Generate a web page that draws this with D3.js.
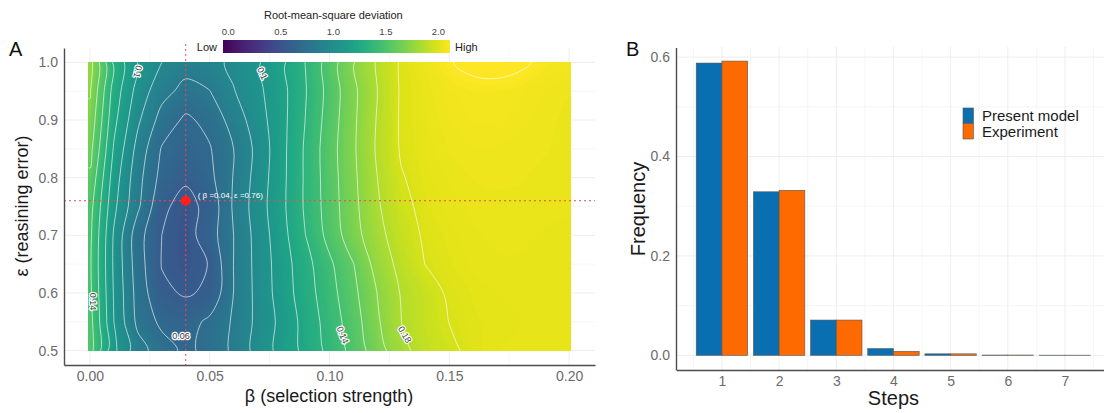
<!DOCTYPE html>
<html>
<head>
<meta charset="utf-8">
<script src="https://cdn.jsdelivr.net/npm/d3@7"></script>
<style>
  body { margin: 0; background: #fff; }
  text { font-family: "Liberation Sans", Arial, sans-serif; }
</style>
</head>
<body>
<svg id="main-svg" width="1104" height="413"></svg>
<script>
(function() {

    // ---- panel A data: RMSD, rows = epsilon, cols = beta
    var betas = [0, 0.01, 0.02, 0.03, 0.04, 0.05, 0.06, 0.07, 0.08, 0.09, 0.10,
                 0.11, 0.12, 0.13, 0.14, 0.15, 0.16, 0.17, 0.18, 0.19, 0.20];
    var epsilons = [0.50, 0.55, 0.60, 0.65, 0.70, 0.75, 0.80, 0.85, 0.90, 0.95, 1.00];
    var rmsd = [
        [0.146, 0.103, 0.079, 0.066, 0.057, 0.064, 0.076, 0.0915, 0.1045, 0.117, 0.1305, 0.1445, 0.161, 0.176, 0.186, 0.191, 0.196, 0.198, 0.199, 0.199, 0.199],
        [0.145, 0.100, 0.070, 0.057, 0.054, 0.063, 0.075, 0.090, 0.1035, 0.118, 0.1325, 0.147, 0.165, 0.180, 0.1875, 0.1935, 0.1965, 0.1975, 0.198, 0.1985, 0.1985],
        [0.143, 0.099, 0.068, 0.049, 0.0455, 0.0485, 0.0735, 0.0905, 0.106, 0.1205, 0.135, 0.150, 0.167, 0.181, 0.188, 0.195, 0.197, 0.198, 0.1985, 0.1985, 0.198],
        [0.142, 0.098, 0.066, 0.0462, 0.042, 0.0472, 0.0735, 0.091, 0.1065, 0.122, 0.1375, 0.153, 0.172, 0.184, 0.1935, 0.1965, 0.1985, 0.199, 0.199, 0.199, 0.1985],
        [0.143, 0.0986, 0.0652, 0.0467, 0.0415, 0.0536, 0.0733, 0.0917, 0.1083, 0.1267, 0.1444, 0.1616, 0.176, 0.1872, 0.195, 0.1975, 0.199, 0.1995, 0.1995, 0.199, 0.1985],
        [0.145, 0.1033, 0.0757, 0.049, 0.0425, 0.0505, 0.0752, 0.0934, 0.110, 0.1286, 0.1462, 0.1633, 0.1785, 0.190, 0.1965, 0.1985, 0.1995, 0.200, 0.200, 0.1998, 0.1995],
        [0.151, 0.107, 0.078, 0.0555, 0.0485, 0.0565, 0.074, 0.092, 0.1095, 0.1286, 0.1469, 0.1642, 0.180, 0.1925, 0.1975, 0.1995, 0.2005, 0.2007, 0.2005, 0.200, 0.1995],
        [0.158, 0.112, 0.0822, 0.059, 0.054, 0.059, 0.0733, 0.0905, 0.1092, 0.1286, 0.1476, 0.165, 0.1817, 0.1946, 0.1985, 0.2005, 0.2015, 0.2015, 0.201, 0.2005, 0.200],
        [0.163, 0.117, 0.089, 0.068, 0.0575, 0.064, 0.079, 0.094, 0.109, 0.127, 0.146, 0.1645, 0.181, 0.195, 0.199, 0.2015, 0.203, 0.203, 0.202, 0.2008, 0.200],
        [0.168, 0.121, 0.095, 0.078, 0.069, 0.073, 0.086, 0.097, 0.109, 0.126, 0.1446, 0.164, 0.180, 0.1948, 0.1995, 0.2025, 0.2040, 0.2040, 0.2030, 0.2015, 0.2005],
        [0.172, 0.124, 0.0995, 0.0867, 0.079, 0.082, 0.0898, 0.0985, 0.1105, 0.127, 0.146, 0.166, 0.1815, 0.195, 0.2005, 0.2062, 0.2092, 0.2100, 0.2082, 0.2045, 0.2025]
    ];
    var contourLevels = [0.0467, 0.06, 0.0733, 0.0867, 0.10, 0.1133, 0.1267,
                         0.14, 0.1533, 0.1667, 0.18, 0.1933, 0.2067];
    var contourLabels = [
        {text: "0.1",  beta: 0.020, eps: 0.984, angle: 105},
        {text: "0.1",  beta: 0.072, eps: 0.981, angle: 65},
        {text: "0.14", beta: 0.0012, eps: 0.585, angle: 90},
        {text: "0.06", beta: 0.038, eps: 0.526, angle: 0},
        {text: "0.14", beta: 0.1055, eps: 0.527, angle: 68},
        {text: "0.18", beta: 0.1315, eps: 0.528, angle: 60}
    ];
    var best = {beta: 0.04, eps: 0.76};
    var betaTicks = [0, 0.05, 0.10, 0.15, 0.20];
    var epsTicks = [0.5, 0.6, 0.7, 0.8, 0.9, 1.0];
    var legendTicks = [0, 0.5, 1.0, 1.5, 2.0];

    // ---- panel B data
    var steps = [1, 2, 3, 4, 5, 6, 7];
    var presentModel = [0.588, 0.329, 0.071, 0.0135, 0.003, 0.0006, 0.0003];
    var experiment   = [0.592, 0.332, 0.071, 0.008, 0.003, 0.0006, 0.0003];
    var seriesNames = ["Present model", "Experiment"];
    var seriesColors = ["#0a6fb0", "#ff6a00"];
    var freqTicks = [0, 0.2, 0.4, 0.6];

    var svg = d3.select("#main-svg");
    var gridColor = "#ececec";
    var axisColor = "#4d4d4d";
    var tickColor = "#6b6b6b";

    // =========================== PANEL A ===========================
    var xA = d3.scaleLinear().domain([-0.0108, 0.2108]).range([64, 595]);
    var yA = d3.scaleLinear().domain([0.475, 1.025]).range([365, 48]);

    var gA = svg.append("g");

    gA.selectAll(".gx").data(d3.range(0, 0.2001, 0.025)).enter()
      .append("line")
      .attr("x1", function(d) { return xA(d); }).attr("x2", function(d) { return xA(d); })
      .attr("y1", 48).attr("y2", 365)
      .attr("stroke", gridColor).attr("stroke-width", function(d, i) { return i % 2 ? 0.5 : 0.9; });
    gA.selectAll(".gy").data(d3.range(0.5, 1.0001, 0.05)).enter()
      .append("line")
      .attr("x1", 64).attr("x2", 595)
      .attr("y1", function(d) { return yA(d); }).attr("y2", function(d) { return yA(d); })
      .attr("stroke", gridColor).attr("stroke-width", function(d, i) { return i % 2 ? 0.5 : 0.9; });

    var nx = betas.length, ny = epsilons.length;
    var bIdx = d3.scaleLinear().domain([0, nx - 1]).range([betas[0], betas[nx - 1]]);
    var eIdx = d3.scaleLinear().domain([0, ny - 1]).range([epsilons[0], epsilons[ny - 1]]);
    var flat = d3.merge(rmsd);
    var contourGen = d3.contours().size([nx, ny]);

    // smooth rings of a contour multipolygon (grid coords -> pixels)
    var ringLine = d3.line().curve(d3.curveCatmullRomClosed.alpha(0.5));
    var smoothPath = function(c) {
        var s = "";
        c.coordinates.forEach(function(poly) {
            poly.forEach(function(ring) {
                var pts = ring.slice(0, ring.length - 1).map(function(p) {
                    return [xA(bIdx(p[0] - 0.5)), yA(eIdx(p[1] - 0.5))];
                });
                if (pts.length > 2) s += ringLine(pts);
            });
        });
        return s;
    };

    var heatColor = d3.scaleSequential(d3.interpolateViridis).domain([-0.018, 0.207]);

    svg.append("defs").append("clipPath").attr("id", "clip-heat")
      .append("rect")
      .attr("x", xA(0) - 1.5).attr("y", yA(1.0) - 0.5)
      .attr("width", xA(0.2) - xA(0) + 3).attr("height", yA(0.5) - yA(1.0) + 1);

    var heat = gA.append("g").attr("clip-path", "url(#clip-heat)");

    var bandStep = 0.0012;
    var bandLevels = d3.range(0.036, 0.2125, bandStep);
    heat.selectAll(".band")
      .data(contourGen.thresholds(bandLevels)(flat))
      .enter().append("path")
      .attr("d", smoothPath)
      .attr("fill", function(c) { return heatColor(c.value + bandStep / 2); })
      .attr("stroke", "none");

    heat.selectAll(".iso")
      .data(contourGen.thresholds(contourLevels)(flat))
      .enter().append("path")
      .attr("d", smoothPath)
      .attr("fill", "none")
      .attr("stroke", "#ffffff")
      .attr("stroke-opacity", 0.62)
      .attr("stroke-width", 1);

    gA.selectAll(".clab").data(contourLabels).enter()
      .append("text")
      .attr("transform", function(d) {
          return "translate(" + xA(d.beta) + "," + yA(d.eps) + ") rotate(" + d.angle + ")";
      })
      .attr("text-anchor", "middle")
      .attr("dy", "0.35em")
      .attr("font-size", 9)
      .attr("fill", "#3a3a3a")
      .attr("stroke", "#ffffff")
      .attr("stroke-width", 2.4)
      .attr("stroke-linejoin", "round")
      .attr("paint-order", "stroke")
      .text(function(d) { return d.text; });

    // best fit cross-hair
    gA.append("line")
      .attr("x1", xA(best.beta)).attr("x2", xA(best.beta))
      .attr("y1", 44).attr("y2", 365)
      .attr("stroke", "#f0484e").attr("stroke-width", 1)
      .attr("stroke-dasharray", "2,3");
    gA.append("line")
      .attr("x1", 64).attr("x2", 595)
      .attr("y1", yA(best.eps)).attr("y2", yA(best.eps))
      .attr("stroke", "#f0484e").attr("stroke-width", 1)
      .attr("stroke-dasharray", "2,3");
    gA.append("circle")
      .attr("cx", xA(best.beta)).attr("cy", yA(best.eps)).attr("r", 5)
      .attr("fill", "#ff1f1f");
    gA.append("text")
      .attr("x", xA(best.beta) + 12).attr("y", yA(best.eps) - 3)
      .attr("font-size", 8)
      .attr("fill", "#ffffff")
      .text("( \u03b2 =" + best.beta + ", \u03b5 =" + best.eps + ")");

    // axes A
    var axAy = gA.append("g").attr("transform", "translate(64,0)")
      .call(d3.axisLeft(yA).tickValues(epsTicks).tickFormat(d3.format(".1f"))
            .tickSize(0).tickSizeOuter(0).tickPadding(6));
    var axAx = gA.append("g").attr("transform", "translate(0,365)")
      .call(d3.axisBottom(xA).tickValues(betaTicks).tickFormat(d3.format(".2f"))
            .tickSize(0).tickSizeOuter(0).tickPadding(6));
    [axAy, axAx].forEach(function(ax) {
        ax.select(".domain").attr("stroke", axisColor).attr("stroke-width", 1.4);
        ax.selectAll("text").attr("font-size", 14).attr("fill", tickColor)
          .style("font-family", "Liberation Sans, Arial, sans-serif");
    });

    gA.append("text")
      .attr("transform", "translate(28,206) rotate(-90)")
      .attr("text-anchor", "middle")
      .attr("font-size", 18).attr("fill", "#1a1a1a")
      .text("\u03b5 (reasining error)");
    gA.append("text")
      .attr("x", 329).attr("y", 402)
      .attr("text-anchor", "middle")
      .attr("font-size", 18).attr("fill", "#1a1a1a")
      .text("\u03b2 (selection strength)");
    gA.append("text")
      .attr("x", 9).attr("y", 56)
      .attr("font-size", 20).attr("fill", "#111")
      .text("A");

    // colour legend
    var legendX = d3.scaleLinear().domain([-0.05, 2.11]).range([223, 450]);
    var grad = svg.select("defs").append("linearGradient").attr("id", "viridis-grad")
      .attr("x1", "0%").attr("x2", "100%").attr("y1", "0%").attr("y2", "0%");
    d3.range(0, 1.0001, 0.05).forEach(function(t) {
        grad.append("stop").attr("offset", (t * 100) + "%").attr("stop-color", d3.interpolateViridis(t));
    });
    var gL = svg.append("g");
    gL.append("rect")
      .attr("x", legendX(-0.05)).attr("y", 40)
      .attr("width", legendX(2.11) - legendX(-0.05)).attr("height", 13)
      .attr("fill", "url(#viridis-grad)");
    gL.selectAll(".lt").data(legendTicks).enter()
      .append("text")
      .attr("x", function(d) { return legendX(d); }).attr("y", 35)
      .attr("text-anchor", "middle")
      .attr("font-size", 9.5).attr("fill", "#444")
      .text(d3.format(".1f"));
    gL.append("text")
      .attr("x", legendX(1.0)).attr("y", 19)
      .attr("text-anchor", "middle")
      .attr("font-size", 11).attr("fill", "#222")
      .text("Root-mean-square deviation");
    gL.append("text")
      .attr("x", 217).attr("y", 51).attr("text-anchor", "end")
      .attr("font-size", 11).attr("fill", "#222").text("Low");
    gL.append("text")
      .attr("x", 455).attr("y", 51)
      .attr("font-size", 11).attr("fill", "#222").text("High");

    // =========================== PANEL B ===========================
    var xB = d3.scaleLinear().domain([0.205, 7.795]).range([676.5, 1110.4]);
    var yB = d3.scaleLinear().domain([-0.0295, 0.6195]).range([370, 47.4]);
    var gB = svg.append("g");

    gB.selectAll(".gbx").data(d3.range(0.5, 7.51, 0.5)).enter()
      .append("line")
      .attr("x1", function(d) { return xB(d); }).attr("x2", function(d) { return xB(d); })
      .attr("y1", 47).attr("y2", 370)
      .attr("stroke", gridColor).attr("stroke-width", function(d, i) { return i % 2 ? 0.9 : 0.5; });
    gB.selectAll(".gby").data(d3.range(0, 0.601, 0.1)).enter()
      .append("line")
      .attr("x1", 676).attr("x2", 1104)
      .attr("y1", function(d) { return yB(d); }).attr("y2", function(d) { return yB(d); })
      .attr("stroke", gridColor).attr("stroke-width", function(d, i) { return i % 2 ? 0.5 : 0.9; });

    var barW = 0.45;
    var series = [presentModel, experiment];
    series.forEach(function(vals, k) {
        gB.selectAll(".bar" + k).data(steps).enter()
          .append("rect")
          .attr("x", function(s) { return xB(s - barW + k * barW); })
          .attr("width", function(s) { return xB(s + barW) - xB(s); })
          .attr("y", function(s, i) { return yB(vals[i]); })
          .attr("height", function(s, i) { return yB(0) - yB(vals[i]); })
          .attr("fill", seriesColors[k])
          .attr("stroke", "#555")
          .attr("stroke-width", 0.6);
    });

    var axBy = gB.append("g").attr("transform", "translate(676,0)")
      .call(d3.axisLeft(yB).tickValues(freqTicks).tickFormat(d3.format(".1f"))
            .tickSize(0).tickSizeOuter(0).tickPadding(6));
    var axBx = gB.append("g").attr("transform", "translate(0,370)")
      .call(d3.axisBottom(xB).tickValues(steps).tickFormat(d3.format("d"))
            .tickSize(0).tickSizeOuter(0).tickPadding(6));
    [axBy, axBx].forEach(function(ax) {
        ax.select(".domain").attr("stroke", axisColor).attr("stroke-width", 1.4);
        ax.selectAll("text").attr("font-size", 14).attr("fill", tickColor)
          .style("font-family", "Liberation Sans, Arial, sans-serif");
    });

    gB.append("text")
      .attr("transform", "translate(645,209) rotate(-90)")
      .attr("text-anchor", "middle")
      .attr("font-size", 20).attr("fill", "#1a1a1a")
      .text("Frequency");
    gB.append("text")
      .attr("x", xB(4)).attr("y", 405)
      .attr("text-anchor", "middle")
      .attr("font-size", 20).attr("fill", "#1a1a1a")
      .text("Steps");
    gB.append("text")
      .attr("x", 626).attr("y", 56)
      .attr("font-size", 20).attr("fill", "#111")
      .text("B");

    // legend B
    var gLB = gB.append("g").attr("transform", "translate(963,108)");
    seriesNames.forEach(function(name, k) {
        gLB.append("rect")
          .attr("x", 0).attr("y", k * 15.5)
          .attr("width", 10.5).attr("height", 15.5)
          .attr("fill", seriesColors[k]).attr("stroke", "#555").attr("stroke-width", 0.6);
        gLB.append("text")
          .attr("x", 19).attr("y", k * 15.5 + 13)
          .attr("font-size", 15).attr("fill", "#1a1a1a")
          .text(name);
    });
})();
</script>
</body>
</html>
